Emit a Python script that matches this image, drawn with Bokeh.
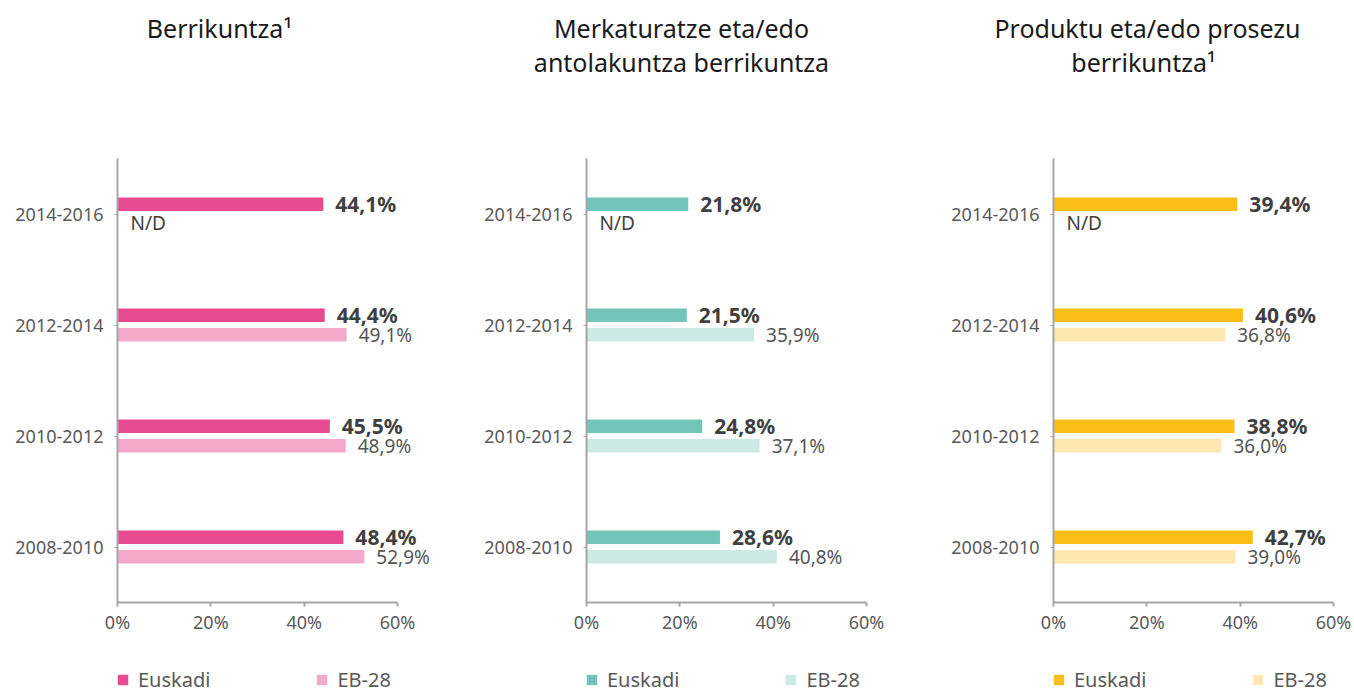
from bokeh.plotting import figure
from bokeh.models import (FactorRange, Range1d, FixedTicker, PrintfTickFormatter,
                          ColumnDataSource, Legend, LegendItem)
from bokeh.transform import dodge
from bokeh.layouts import row, column
from bokeh.embed import file_html
from bokeh.resources import INLINE
from bokeh.core.properties import value

# ---------------- data ----------------
periods = ["2014-2016", "2012-2014", "2010-2012", "2008-2010"]

berrikuntza_euskadi = [44.1, 44.4, 45.5, 48.4]
berrikuntza_eb28 = [None, 49.1, 48.9, 52.9]

merkaturatze_euskadi = [21.8, 21.5, 24.8, 28.6]
merkaturatze_eb28 = [None, 35.9, 37.1, 40.8]

produktu_euskadi = [39.4, 40.6, 38.8, 42.7]
produktu_eb28 = [None, 36.8, 36.0, 39.0]

x_ticks = [0, 20, 40, 60]
legend_labels = ["Euskadi", "EB-28"]
missing_label = "N/D"

titles = [
    ["Berrikuntza\u00b9"],
    ["Merkaturatze eta/edo", "antolakuntza berrikuntza"],
    ["Produktu eta/edo prosezu", "berrikuntza\u00b9"],
]

# ---------------- style ----------------
FONT = "Noto Sans"
AXIS_COLOR = "#a6a6a6"
TICK_TEXT = "#595959"
TOTAL_W = 1354
TITLE_H = 95
LEGEND_H = 40
CHART_H = 693 - TITLE_H - LEGEND_H
FRAME_TOP = 158 - TITLE_H
FRAME_H = 444
PX_PER_UNIT = 280 / 60

colors = [("#e84a8f", "#f5a9ca"), ("#73c5b9", "#cde9e4"), ("#fbbe16", "#fee8b0")]
fig_widths = [469, 467, 418]
x_max = [72, 66, 63]
frame_lefts = [117, 586, 1053]


def fmt(v):
    return f"{v:.1f}".replace(".", ",") + "%"


def make_panel(eus, eb, c_eus, c_eb, width, xmax):
    frame_w = round(xmax * PX_PER_UNIT)
    p = figure(width=width, height=CHART_H,
               y_range=FactorRange(factors=list(reversed(periods))),
               x_range=Range1d(0, xmax),
               output_backend="svg", toolbar_location=None,
               min_border_left=117, min_border_right=width - 117 - frame_w,
               min_border_top=FRAME_TOP, min_border_bottom=CHART_H - FRAME_TOP - FRAME_H)
    p.outline_line_color = None
    p.grid.visible = False
    p.background_fill_color = "white"
    p.border_fill_color = "white"

    eus_src = ColumnDataSource(dict(period=periods, val=eus, lab=[fmt(v) for v in eus]))
    eb_per = [pp for pp, v in zip(periods, eb) if v is not None]
    eb_val = [v for v in eb if v is not None]
    eb_src = ColumnDataSource(dict(period=eb_per, val=eb_val, lab=[fmt(v) for v in eb_val]))
    miss_per = [pp for pp, v in zip(periods, eb) if v is None]
    miss_src = ColumnDataSource(dict(period=miss_per, val=[0] * len(miss_per),
                                     lab=[missing_label] * len(miss_per)))

    off = 0.087
    p.hbar(y=dodge("period", off, range=p.y_range), left=0, right="val",
           height=0.122, fill_color=c_eus, line_color=None, source=eus_src)
    p.hbar(y=dodge("period", -off, range=p.y_range), left=0, right="val",
           height=0.122, fill_color=c_eb, line_color=None, source=eb_src)

    p.text(x="val", y=dodge("period", off, range=p.y_range), text="lab", source=eus_src,
           x_offset=12, text_align="left", text_baseline="middle",
           text_font=value(FONT), text_font_style="bold", text_font_size="21px",
           text_color="#404040")
    p.text(x="val", y=dodge("period", -off, range=p.y_range), text="lab", source=eb_src,
           x_offset=12, text_align="left", text_baseline="middle",
           text_font=value(FONT), text_font_size="19px", text_color="#555555")
    p.text(x="val", y=dodge("period", -0.08, range=p.y_range), text="lab", source=miss_src,
           x_offset=13, text_align="left", text_baseline="middle",
           text_font=value(FONT), text_font_size="19px", text_color="#404040")

    xa = p.xaxis[0]
    xa.bounds = (0, 60)
    xa.ticker = FixedTicker(ticks=x_ticks)
    xa.formatter = PrintfTickFormatter(format="%d%%")
    xa.axis_line_color = AXIS_COLOR
    xa.axis_line_width = 2
    xa.major_tick_line_color = AXIS_COLOR
    xa.major_tick_line_width = 2
    xa.major_tick_in = 0
    xa.major_tick_out = 4
    xa.minor_tick_line_color = None
    xa.major_label_standoff = 3
    xa.major_label_text_font = FONT
    xa.major_label_text_font_size = "18px"
    xa.major_label_text_color = TICK_TEXT

    ya = p.yaxis[0]
    ya.axis_line_color = AXIS_COLOR
    ya.axis_line_width = 2
    ya.major_tick_line_color = AXIS_COLOR
    ya.major_tick_line_width = 1
    ya.major_tick_in = 0
    ya.major_tick_out = 3
    ya.major_label_standoff = 11
    ya.major_label_text_font = FONT
    ya.major_label_text_font_size = "18px"
    ya.major_label_text_color = TICK_TEXT
    return p


panel_data = [(berrikuntza_euskadi, berrikuntza_eb28),
              (merkaturatze_euskadi, merkaturatze_eb28),
              (produktu_euskadi, produktu_eb28)]
panels = [make_panel(e, b, c[0], c[1], w, xm)
          for (e, b), c, w, xm in zip(panel_data, colors, fig_widths, x_max)]

# ---------------- title strip ----------------
pt = figure(width=TOTAL_W, height=TITLE_H, x_range=Range1d(0, TOTAL_W),
            y_range=Range1d(TITLE_H, 0), output_backend="svg", toolbar_location=None,
            x_axis_location=None, y_axis_location=None, min_border=0)
pt.outline_line_color = None
pt.grid.visible = False
title_centers = [[219], [681, 681], [1147, 1143]]
title_first_baseline = 27
title_line_gap = 34
title_sizes = ["25px", "25px", "25px"]
tx, ty, tt, ts = [], [], [], []
for lines, centers, size in zip(titles, title_centers, title_sizes):
    for i, (line, cx) in enumerate(zip(lines, centers)):
        tx.append(cx)
        ty.append(title_first_baseline + i * title_line_gap)
        tt.append(line)
        ts.append(size)
pt.text(x="x", y="y", text="t", text_font_size="s",
        source=ColumnDataSource(dict(x=tx, y=ty, t=tt, s=ts)),
        text_align="center", text_baseline="alphabetic",
        text_font=value(FONT), text_color="#1a1a1a")

# ---------------- legend strip ----------------
pl = figure(width=TOTAL_W, height=LEGEND_H, x_range=Range1d(0, TOTAL_W),
            y_range=Range1d(0, LEGEND_H), output_backend="svg", toolbar_location=None,
            x_axis_location=None, y_axis_location=None, min_border=0)
pl.outline_line_color = None
pl.grid.visible = False
for (c_eus, c_eb), fl in zip(colors, frame_lefts):
    # helper renderers kept outside the visible strip; they only lend their style to the legend
    r1 = pl.hbar(y=[-100], right=[1], left=0, height=1, fill_color=c_eus, line_color=None)
    r2 = pl.hbar(y=[-100], right=[1], left=0, height=1, fill_color=c_eb, line_color=None)
    lg = Legend(items=[LegendItem(label=legend_labels[0], renderers=[r1]),
                       LegendItem(label=legend_labels[1], renderers=[r2])],
                orientation="horizontal", location=(fl - 1, 0),
                glyph_width=13, glyph_height=13, label_standoff=9, spacing=105,
                padding=0, margin=0, border_line_color=None, background_fill_alpha=0,
                label_text_font=FONT, label_text_font_size="20px",
                label_text_color=TICK_TEXT)
    pl.add_layout(lg)

layout = column(pt, row(*panels), pl)
open("out.html", "w").write(file_html(layout, INLINE))
